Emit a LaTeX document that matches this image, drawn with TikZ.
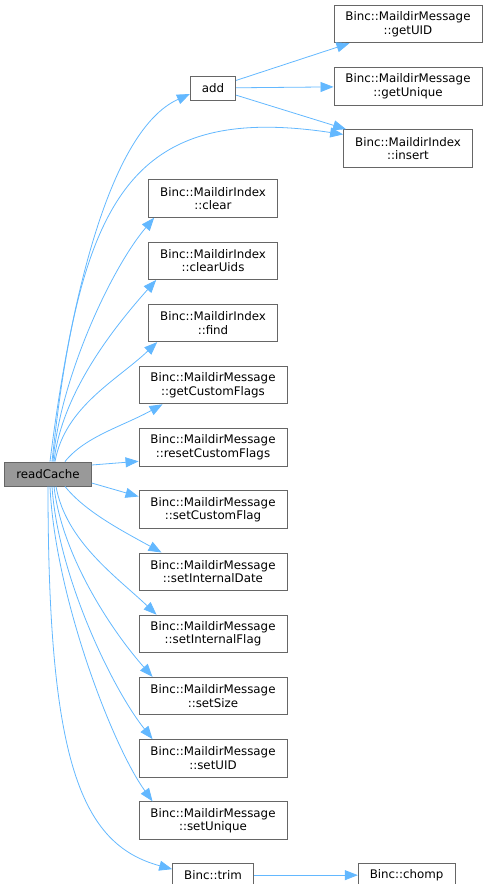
\documentclass[tikz,border=0pt]{standalone}
\usepackage{fontspec}
\setmainfont{DejaVu Sans}
\usepackage{tikz}
\usetikzlibrary{positioning, arrows.meta}

\definecolor{edgeblue}{HTML}{63B8FF}
\definecolor{framegray}{HTML}{666666}
\definecolor{rootgray}{HTML}{999999}

\begin{document}
\begin{tikzpicture}[
            x=1pt, y=1pt,
            func/.style={draw=framegray, fill=white, line width=0.9pt, rectangle, minimum height=37.5pt, inner xsep=11.5pt, inner ysep=2pt, align=center, font=\fontsize{11.84}{13.5}\selectfont},
            single/.style={func, minimum height=24pt},
            root/.style={single, fill=rootgray},
            edge/.style={draw=edgeblue, line width=0.8pt, -{Triangle[length=13pt, width=10pt]}}
        ]
        \useasboundingbox (0,0) rectangle (487,-884);

        % Knoten
        \node[root] (rc) at (48,-474) {readCache};
        \node[single] (add) at (213,-88) {add};

        \node[func] (getuid) at (408,-24) {Binc::MaildirMessage\\::getUID};
        \node[func, below=23.8pt of getuid] (getunique) {Binc::MaildirMessage\\::getUnique};
        \node[func, below=23.8pt of getunique] (insert) {Binc::MaildirIndex\\::insert};

        \node[func] (clear) at (213,-198.5) {Binc::MaildirIndex\\::clear};
        \node[func, below=23.8pt of clear] (clearuids) {Binc::MaildirIndex\\::clearUids};
        \node[func, below=23.8pt of clearuids] (find) {Binc::MaildirIndex\\::find};
        \node[func, below=23.8pt of find] (getcustomflags) {Binc::MaildirMessage\\::getCustomFlags};
        \node[func, below=23.8pt of getcustomflags] (resetcustomflags) {Binc::MaildirMessage\\::resetCustomFlags};
        \node[func, below=23.8pt of resetcustomflags] (setcustomflag) {Binc::MaildirMessage\\::setCustomFlag};
        \node[func, below=23.8pt of setcustomflag] (setinternaldate) {Binc::MaildirMessage\\::setInternalDate};
        \node[func, below=23.8pt of setinternaldate] (setinternalflag) {Binc::MaildirMessage\\::setInternalFlag};
        \node[func, below=23.8pt of setinternalflag] (setsize) {Binc::MaildirMessage\\::setSize};
        \node[func, below=23.8pt of setsize] (setuid) {Binc::MaildirMessage\\::setUID};
        \node[func, below=23.8pt of setuid] (setunique) {Binc::MaildirMessage\\::setUnique};
        \node[single, below=23pt of setunique] (trim) {Binc::trim};
        \node[single, right=104pt of trim] (chomp) {Binc::chomp};

        % Kanten nach oben
        \draw[edge] ([xshift=2pt]rc.north) .. controls +(20,162) and +(-80,-36) .. ([yshift=-6pt]add.west);
        \draw[edge] ([xshift=4pt]rc.north) .. controls +(28,262) and +(-213,32) .. ([yshift=14pt]insert.west);
        \draw[edge] ([xshift=5pt]rc.north) .. controls +(7,82) and +(-44,-52) .. ([xshift=6pt]clear.south west);
        \draw[edge] ([xshift=6pt]rc.north) .. controls +(8,70) and +(-40,-45) .. ([xshift=8pt]clearuids.south west);
        \draw[edge] ([xshift=7pt]rc.north) .. controls +(10,55) and +(-40,-38) .. ([xshift=9pt]find.south west);
        \draw[edge] ([xshift=17pt]rc.north) .. controls +(20,25) and +(-40,-22) .. ([xshift=24pt]getcustomflags.south west);
        \draw[edge] ([yshift=9pt]rc.east) -- ([yshift=-14pt]resetcustomflags.west);

        % Kanten nach unten
        \draw[edge] ([yshift=-9pt]rc.east) -- ([yshift=13pt]setcustomflag.west);
        \draw[edge] ([xshift=17pt]rc.south) .. controls +(20,-25) and +(-40,22) .. ([xshift=23pt]setinternaldate.north west);
        \draw[edge] ([xshift=8pt]rc.south) .. controls +(10,-55) and +(-40,38) .. ([xshift=18pt]setinternalflag.north west);
        \draw[edge] ([xshift=6pt]rc.south) .. controls +(8,-70) and +(-40,45) .. ([xshift=14pt]setsize.north west);
        \draw[edge] ([xshift=4pt]rc.south) .. controls +(6,-90) and +(-40,50) .. ([xshift=14pt]setuid.north west);
        \draw[edge] ([xshift=2pt]rc.south) .. controls +(5,-110) and +(-40,55) .. ([xshift=14pt]setunique.north west);
        \draw[edge] (rc.south) .. controls +(0,-274) and +(-92,25) .. ([yshift=6pt]trim.west);

        % Kanten der Nachbarn
        \draw[edge] (add) -- (getuid);
        \draw[edge] (add) -- (getunique);
        \draw[edge] (add) -- (insert);
        \draw[edge] (trim) -- (chomp);

    \end{tikzpicture}
\end{document}
